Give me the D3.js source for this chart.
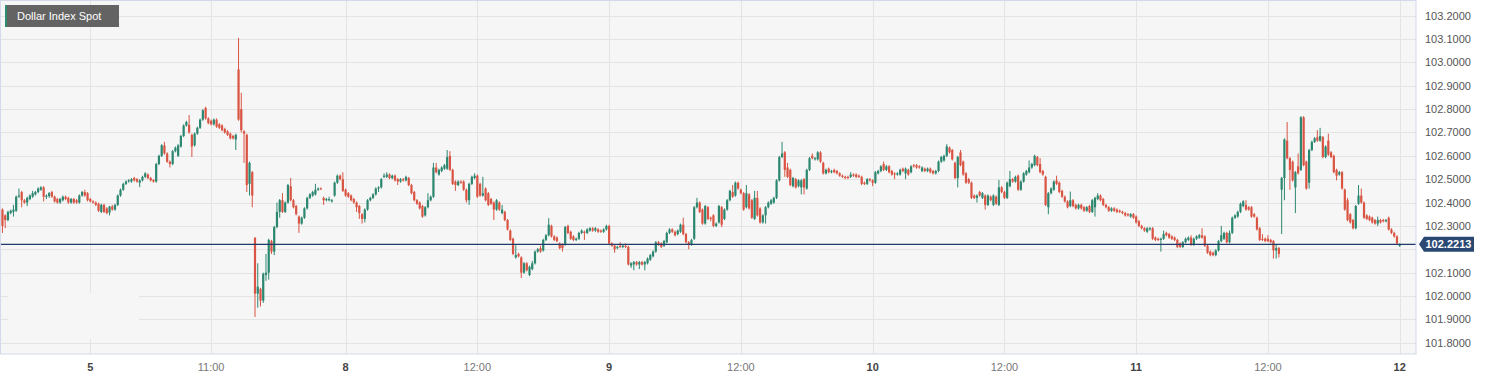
<!DOCTYPE html>
<html>
<head>
<meta charset="utf-8">
<script src="https://cdn.jsdelivr.net/npm/d3@7"></script>
<style>
  body { margin: 0; background: #fff; }
  svg { display: block; font-family: "Liberation Sans", Arial, sans-serif; }
</style>
</head>
<body>
<div id="chart"></div>
<script>
// 15-minute candles, Dollar Index Spot
const open = [
102.37,102.345,102.325,102.355,102.36,102.365,102.425,102.445,102.41,102.40,
102.415,102.425,102.435,102.445,102.455,102.465,102.425,102.428,102.445,102.425,
102.415,102.40,102.41,102.425,102.42,102.40,102.415,102.41,102.40,102.43,
102.445,102.44,102.415,102.405,102.40,102.395,102.36,102.39,102.375,102.357,
102.383,102.37,102.39,102.43,102.455,102.48,102.49,102.49,102.505,102.50,
102.485,102.495,102.51,102.52,102.505,102.497,102.49,102.565,102.60,102.645,
102.61,102.575,102.565,102.62,102.60,102.64,102.685,102.73,102.733,102.69,
102.645,102.695,102.72,102.755,102.805,102.76,102.75,102.735,102.755,102.735,
102.73,102.715,102.705,102.695,102.685,102.67,102.97,102.80,102.705,102.69,
102.48,102.53,102.25,102.01,102.03,101.98,102.09,102.10,102.235,102.19,
102.295,102.36,102.41,102.36,102.40,102.47,102.41,102.385,102.34,102.31,
102.335,102.375,102.42,102.43,102.435,102.455,102.46,102.42,102.41,102.41,
102.405,102.43,102.485,102.515,102.50,102.455,102.44,102.43,102.415,102.40,
102.385,102.35,102.33,102.37,102.41,102.42,102.435,102.46,102.465,102.51,
102.51,102.52,102.505,102.515,102.50,102.49,102.50,102.495,102.505,102.475,
102.445,102.41,102.40,102.385,102.345,102.38,102.41,102.425,102.55,102.52,
102.535,102.545,102.545,102.60,102.54,102.49,102.475,102.49,102.49,102.455,
102.41,102.48,102.505,102.515,102.48,102.43,102.46,102.44,102.415,102.40,
102.37,102.40,102.355,102.36,102.325,102.28,102.245,102.165,102.18,102.165,
102.10,102.14,102.09,102.115,102.14,102.19,102.205,102.195,102.24,102.26,
102.30,102.255,102.25,102.225,102.22,102.22,102.30,102.275,102.255,102.24,
102.245,102.27,102.275,102.27,102.28,102.29,102.28,102.285,102.28,102.275,
102.285,102.30,102.225,102.215,102.205,102.215,102.21,102.215,102.21,102.13,
102.135,102.145,102.135,102.145,102.135,102.14,102.155,102.17,102.19,102.23,
102.225,102.215,102.23,102.27,102.285,102.275,102.265,102.275,102.305,102.265,
102.23,102.22,102.245,102.38,102.40,102.37,102.31,102.38,102.335,102.345,
102.30,102.315,102.38,102.33,102.37,102.41,102.445,102.43,102.485,102.455,
102.44,102.38,102.435,102.41,102.33,102.42,102.375,102.315,102.345,102.38,
102.395,102.40,102.42,102.495,102.595,102.615,102.55,102.54,102.47,102.50,
102.47,102.465,102.50,102.46,102.54,102.60,102.585,102.585,102.615,102.57,
102.525,102.545,102.53,102.54,102.535,102.525,102.515,102.51,102.51,102.51,
102.52,102.52,102.515,102.51,102.485,102.48,102.50,102.495,102.485,102.525,
102.535,102.565,102.54,102.555,102.535,102.525,102.52,102.52,102.545,102.525,
102.54,102.53,102.56,102.56,102.555,102.535,102.545,102.535,102.545,102.535,
102.525,102.535,102.575,102.58,102.60,102.635,102.625,102.57,102.505,102.615,
102.575,102.525,102.50,102.485,102.43,102.42,102.445,102.42,102.43,102.39,
102.425,102.39,102.425,102.39,102.465,102.445,102.42,102.47,102.50,102.49,
102.515,102.455,102.49,102.52,102.53,102.55,102.56,102.595,102.565,102.535,
102.51,102.38,102.44,102.455,102.495,102.485,102.45,102.425,102.405,102.385,
102.41,102.39,102.375,102.39,102.38,102.365,102.385,102.36,102.38,102.415,
102.43,102.415,102.39,102.38,102.365,102.375,102.37,102.365,102.36,102.355,
102.35,102.34,102.35,102.34,102.32,102.30,102.29,102.275,102.285,102.29,
102.25,102.245,102.24,102.245,102.27,102.265,102.255,102.25,102.24,102.225,
102.21,102.23,102.24,102.25,102.22,102.245,102.25,102.26,102.255,102.215,
102.19,102.185,102.175,102.195,102.235,102.245,102.27,102.23,102.27,102.335,
102.34,102.36,102.385,102.39,102.38,102.38,102.35,102.335,102.29,102.245,
102.245,102.245,102.24,102.235,102.195,102.205,102.455,102.505,102.665,102.59,
102.575,102.465,102.555,102.54,102.765,102.575,102.485,102.625,102.66,102.68,
102.665,102.68,102.595,102.665,102.615,102.60,102.54,102.52,102.53,102.455,
102.41,102.35,102.325,102.29,102.395,102.43,102.40,102.345,102.34,102.335,
102.325,102.31,102.325,102.325,102.32,102.335,102.285,102.27,102.255,102.215
];
const high = [
102.375,102.35,102.365,102.37,102.39,102.43,102.46,102.45,102.415,102.425,
102.435,102.45,102.45,102.465,102.47,102.47,102.435,102.445,102.45,102.43,
102.42,102.42,102.43,102.43,102.425,102.42,102.42,102.415,102.435,102.45,
102.455,102.445,102.42,102.41,102.405,102.40,102.395,102.395,102.38,102.385,
102.39,102.395,102.435,102.46,102.485,102.495,102.50,102.505,102.51,102.505,
102.50,102.515,102.53,102.525,102.51,102.50,102.57,102.605,102.65,102.66,
102.615,102.58,102.625,102.64,102.65,102.69,102.735,102.75,102.775,102.695,
102.70,102.725,102.76,102.80,102.81,102.765,102.755,102.76,102.76,102.74,
102.735,102.72,102.71,102.70,102.69,102.695,103.105,102.87,102.71,102.695,
102.575,102.535,102.25,102.14,102.035,102.10,102.18,102.245,102.24,102.30,
102.40,102.415,102.44,102.405,102.48,102.505,102.415,102.39,102.345,102.34,
102.38,102.425,102.44,102.45,102.48,102.465,102.465,102.425,102.42,102.425,
102.415,102.49,102.52,102.52,102.53,102.46,102.445,102.435,102.42,102.405,
102.39,102.355,102.375,102.415,102.425,102.44,102.465,102.47,102.505,102.525,
102.53,102.525,102.52,102.52,102.505,102.505,102.505,102.515,102.51,102.48,
102.45,102.415,102.405,102.39,102.385,102.44,102.43,102.57,102.57,102.545,
102.555,102.565,102.625,102.62,102.545,102.495,102.495,102.495,102.495,102.46,
102.485,102.515,102.525,102.52,102.485,102.51,102.465,102.445,102.42,102.405,
102.415,102.405,102.39,102.365,102.33,102.285,102.25,102.217,102.185,102.17,
102.145,102.145,102.13,102.15,102.195,102.205,102.215,102.245,102.265,102.333,
102.305,102.26,102.255,102.23,102.225,102.30,102.305,102.28,102.26,102.25,
102.275,102.285,102.28,102.29,102.295,102.295,102.295,102.29,102.285,102.29,
102.305,102.305,102.23,102.22,102.215,102.23,102.22,102.225,102.215,102.145,
102.15,102.15,102.15,102.15,102.15,102.165,102.18,102.195,102.235,102.235,
102.23,102.24,102.275,102.29,102.29,102.28,102.285,102.31,102.335,102.27,
102.235,102.245,102.385,102.42,102.405,102.375,102.39,102.385,102.34,102.35,
102.315,102.39,102.385,102.375,102.415,102.455,102.475,102.49,102.49,102.46,
102.445,102.475,102.44,102.415,102.45,102.45,102.38,102.35,102.385,102.405,
102.415,102.425,102.50,102.60,102.66,102.62,102.57,102.545,102.51,102.505,
102.50,102.50,102.505,102.545,102.595,102.61,102.595,102.62,102.62,102.575,
102.545,102.55,102.54,102.545,102.54,102.53,102.52,102.515,102.515,102.53,
102.525,102.525,102.52,102.515,102.49,102.505,102.505,102.50,102.535,102.54,
102.56,102.575,102.56,102.56,102.54,102.53,102.53,102.545,102.55,102.55,
102.545,102.56,102.565,102.565,102.56,102.555,102.55,102.55,102.55,102.54,
102.54,102.58,102.60,102.605,102.65,102.64,102.63,102.575,102.60,102.625,
102.58,102.53,102.505,102.49,102.435,102.435,102.45,102.445,102.435,102.435,
102.43,102.435,102.43,102.497,102.47,102.45,102.49,102.535,102.505,102.515,
102.52,102.495,102.53,102.54,102.58,102.57,102.605,102.60,102.59,102.54,
102.515,102.445,102.465,102.495,102.515,102.49,102.455,102.43,102.41,102.447,
102.415,102.395,102.395,102.395,102.385,102.385,102.39,102.415,102.425,102.44,
102.435,102.42,102.395,102.385,102.38,102.38,102.375,102.37,102.365,102.36,
102.355,102.355,102.355,102.345,102.325,102.305,102.295,102.295,102.295,102.295,
102.255,102.25,102.25,102.28,102.275,102.27,102.26,102.255,102.245,102.23,
102.235,102.25,102.255,102.26,102.25,102.26,102.265,102.29,102.26,102.22,
102.195,102.19,102.20,102.24,102.30,102.275,102.275,102.28,102.34,102.35,
102.365,102.40,102.41,102.41,102.385,102.385,102.355,102.34,102.295,102.265,
102.25,102.26,102.245,102.24,102.22,102.21,102.51,102.675,102.745,102.595,
102.58,102.535,102.61,102.77,102.77,102.58,102.63,102.665,102.68,102.71,
102.72,102.685,102.645,102.695,102.62,102.605,102.545,102.535,102.535,102.46,
102.42,102.355,102.33,102.39,102.475,102.46,102.405,102.35,102.345,102.34,
102.33,102.34,102.33,102.33,102.33,102.34,102.29,102.275,102.26,102.225
];
const low = [
102.27,102.29,102.32,102.35,102.34,102.36,102.42,102.38,102.395,102.385,
102.41,102.42,102.43,102.44,102.45,102.405,102.415,102.42,102.42,102.40,
102.395,102.395,102.405,102.41,102.395,102.395,102.395,102.395,102.395,102.425,
102.425,102.405,102.40,102.395,102.385,102.36,102.355,102.355,102.35,102.345,
102.365,102.365,102.385,102.425,102.45,102.475,102.485,102.485,102.49,102.485,
102.466,102.49,102.505,102.50,102.49,102.485,102.485,102.56,102.595,102.605,
102.57,102.55,102.56,102.615,102.595,102.635,102.68,102.725,102.695,102.595,
102.64,102.69,102.715,102.75,102.755,102.735,102.73,102.73,102.72,102.715,
102.705,102.695,102.685,102.67,102.67,102.625,102.75,102.70,102.57,102.445,
102.43,102.38,101.91,101.95,101.955,101.97,102.065,102.07,102.18,102.175,
102.29,102.335,102.355,102.355,102.395,102.405,102.375,102.345,102.27,102.305,
102.33,102.37,102.415,102.425,102.43,102.45,102.455,102.39,102.405,102.405,
102.40,102.425,102.48,102.495,102.445,102.425,102.42,102.405,102.395,102.36,
102.33,102.31,102.315,102.365,102.405,102.415,102.43,102.445,102.46,102.505,
102.505,102.50,102.50,102.49,102.475,102.485,102.49,102.49,102.47,102.435,
102.405,102.39,102.37,102.335,102.34,102.375,102.405,102.42,102.525,102.515,
102.53,102.54,102.54,102.535,102.475,102.45,102.47,102.48,102.45,102.40,
102.39,102.475,102.50,102.42,102.425,102.425,102.405,102.385,102.39,102.325,
102.365,102.365,102.35,102.32,102.28,102.235,102.175,102.16,102.165,102.077,
102.095,102.105,102.085,102.11,102.135,102.185,102.185,102.19,102.235,102.255,
102.25,102.235,102.23,102.20,102.19,102.215,102.265,102.24,102.235,102.235,
102.24,102.265,102.24,102.265,102.275,102.275,102.275,102.27,102.27,102.27,
102.28,102.22,102.21,102.185,102.20,102.205,102.205,102.205,102.13,102.12,
102.11,102.13,102.115,102.13,102.11,102.135,102.15,102.165,102.185,102.215,
102.205,102.21,102.225,102.265,102.27,102.255,102.26,102.27,102.26,102.225,
102.20,102.215,102.24,102.375,102.355,102.305,102.305,102.325,102.32,102.295,
102.295,102.31,102.295,102.325,102.365,102.405,102.42,102.425,102.455,102.435,
102.365,102.375,102.37,102.33,102.325,102.34,102.31,102.31,102.31,102.375,
102.39,102.395,102.415,102.49,102.59,102.51,102.505,102.47,102.465,102.46,
102.465,102.435,102.435,102.455,102.535,102.585,102.58,102.58,102.57,102.52,
102.52,102.525,102.525,102.525,102.52,102.51,102.505,102.50,102.50,102.505,
102.51,102.505,102.505,102.475,102.475,102.475,102.49,102.47,102.48,102.52,
102.53,102.535,102.535,102.525,102.515,102.50,102.515,102.515,102.53,102.50,
102.515,102.525,102.55,102.545,102.545,102.53,102.53,102.53,102.525,102.52,
102.52,102.53,102.57,102.575,102.595,102.61,102.58,102.50,102.465,102.555,
102.515,102.48,102.48,102.415,102.415,102.40,102.425,102.415,102.37,102.385,
102.405,102.385,102.39,102.385,102.44,102.415,102.415,102.465,102.485,102.485,
102.45,102.45,102.485,102.515,102.525,102.545,102.555,102.555,102.525,102.515,
102.385,102.35,102.435,102.45,102.475,102.44,102.42,102.40,102.375,102.38,
102.38,102.37,102.37,102.37,102.36,102.36,102.355,102.355,102.34,102.41,
102.405,102.385,102.375,102.36,102.36,102.36,102.355,102.355,102.35,102.34,
102.34,102.335,102.33,102.31,102.295,102.285,102.275,102.27,102.28,102.24,
102.235,102.235,102.19,102.24,102.255,102.245,102.24,102.235,102.205,102.205,
102.205,102.225,102.235,102.215,102.215,102.24,102.245,102.245,102.21,102.18,
102.17,102.17,102.17,102.19,102.23,102.24,102.225,102.225,102.265,102.33,
102.335,102.355,102.38,102.365,102.365,102.335,102.335,102.28,102.235,102.235,
102.23,102.23,102.225,102.16,102.16,102.165,102.265,102.41,102.585,102.455,
102.49,102.355,102.52,102.535,102.555,102.455,102.46,102.62,102.655,102.66,
102.66,102.59,102.59,102.60,102.59,102.525,102.495,102.515,102.455,102.365,
102.32,102.31,102.285,102.285,102.39,102.395,102.33,102.325,102.32,102.31,
102.305,102.30,102.31,102.315,102.315,102.28,102.265,102.25,102.22,102.21
];
const close = [
102.30,102.325,102.36,102.365,102.37,102.425,102.43,102.41,102.40,102.42,
102.43,102.44,102.445,102.46,102.465,102.425,102.43,102.44,102.425,102.405,
102.40,102.415,102.425,102.415,102.40,102.415,102.40,102.40,102.43,102.445,
102.43,102.41,102.405,102.40,102.39,102.365,102.39,102.36,102.355,102.383,
102.37,102.39,102.43,102.455,102.48,102.49,102.495,102.50,102.495,102.49,
102.495,102.51,102.525,102.505,102.495,102.49,102.565,102.60,102.645,102.61,
102.575,102.565,102.62,102.635,102.645,102.685,102.73,102.745,102.70,102.64,
102.695,102.72,102.755,102.795,102.76,102.74,102.735,102.755,102.725,102.72,
102.71,102.70,102.69,102.675,102.675,102.69,102.755,102.71,102.695,102.475,
102.57,102.43,102.01,102.04,101.98,102.095,102.10,102.24,102.19,102.295,
102.36,102.41,102.36,102.40,102.475,102.41,102.38,102.35,102.31,102.335,
102.375,102.42,102.435,102.445,102.455,102.46,102.458,102.41,102.415,102.415,
102.41,102.485,102.515,102.50,102.45,102.43,102.425,102.41,102.40,102.38,
102.355,102.33,102.37,102.41,102.42,102.435,102.46,102.465,102.50,102.515,
102.52,102.505,102.515,102.495,102.49,102.50,102.495,102.51,102.475,102.44,
102.41,102.395,102.375,102.34,102.38,102.41,102.425,102.55,102.53,102.54,
102.55,102.56,102.595,102.54,102.48,102.475,102.49,102.485,102.455,102.41,
102.48,102.51,102.515,102.425,102.43,102.44,102.41,102.39,102.395,102.37,
102.41,102.37,102.37,102.325,102.285,102.24,102.18,102.175,102.17,102.10,
102.14,102.11,102.125,102.14,102.19,102.20,102.19,102.24,102.26,102.305,
102.255,102.24,102.235,102.205,102.205,102.295,102.27,102.245,102.24,102.245,
102.27,102.28,102.27,102.285,102.29,102.28,102.29,102.275,102.275,102.285,
102.30,102.225,102.215,102.20,102.21,102.21,102.215,102.21,102.135,102.14,
102.145,102.135,102.145,102.135,102.145,102.16,102.175,102.19,102.23,102.22,
102.21,102.235,102.27,102.285,102.275,102.26,102.28,102.305,102.265,102.23,
102.22,102.24,102.38,102.40,102.36,102.31,102.385,102.33,102.33,102.30,
102.31,102.385,102.305,102.37,102.41,102.45,102.425,102.485,102.46,102.44,
102.37,102.44,102.375,102.335,102.42,102.345,102.315,102.345,102.38,102.40,
102.41,102.42,102.495,102.595,102.61,102.54,102.51,102.475,102.505,102.465,
102.495,102.495,102.465,102.54,102.59,102.59,102.59,102.615,102.575,102.525,
102.54,102.53,102.535,102.53,102.525,102.515,102.51,102.505,102.505,102.52,
102.515,102.51,102.51,102.48,102.48,102.50,102.495,102.485,102.53,102.535,
102.555,102.54,102.555,102.53,102.52,102.52,102.525,102.54,102.535,102.545,
102.52,102.555,102.555,102.55,102.55,102.55,102.535,102.545,102.53,102.525,
102.535,102.575,102.595,102.60,102.64,102.615,102.585,102.505,102.595,102.56,
102.52,102.485,102.485,102.42,102.42,102.43,102.43,102.44,102.39,102.43,
102.41,102.43,102.395,102.465,102.445,102.42,102.485,102.50,102.49,102.51,
102.455,102.49,102.525,102.535,102.55,102.565,102.60,102.56,102.53,102.52,
102.39,102.44,102.46,102.49,102.48,102.445,102.425,102.405,102.38,102.41,
102.385,102.375,102.39,102.375,102.365,102.38,102.36,102.41,102.42,102.43,
102.41,102.39,102.38,102.365,102.375,102.365,102.36,102.36,102.355,102.345,
102.345,102.35,102.335,102.315,102.30,102.29,102.28,102.29,102.29,102.245,
102.24,102.24,102.245,102.265,102.26,102.25,102.245,102.24,102.21,102.21,
102.23,102.245,102.25,102.22,102.245,102.255,102.26,102.25,102.215,102.185,
102.175,102.175,102.195,102.235,102.26,102.27,102.23,102.27,102.335,102.345,
102.36,102.395,102.405,102.37,102.37,102.34,102.34,102.285,102.24,102.24,
102.235,102.235,102.23,102.195,102.205,102.18,102.505,102.67,102.59,102.54,
102.495,102.53,102.525,102.765,102.56,102.46,102.625,102.66,102.675,102.665,
102.685,102.595,102.64,102.605,102.595,102.53,102.515,102.53,102.46,102.37,
102.325,102.315,102.29,102.385,102.43,102.40,102.335,102.33,102.325,102.315,
102.31,102.325,102.315,102.32,102.325,102.285,102.27,102.255,102.225,102.2213
];

const yTickValues = [101.8, 101.9, 102.0, 102.1, 102.2, 102.3, 102.4, 102.5, 102.6, 102.7, 102.8, 102.9, 103.0, 103.1, 103.2];
const xTickIndex = [32, 76, 125, 173, 221, 269, 317, 365, 413, 461, 509];
const xTickLabels = ['5', '11:00', '8', '12:00', '9', '12:00', '10', '12:00', '11', '12:00', '12'];
const lastPrice = 102.2213;
const title = 'Dollar Index Spot';

const width = 1493, height = 380;
const plotW = 1416, plotH = 354;
const bg = '#f6f6f6', gridColor = '#e4e4e4';
const upColor = '#2c8770', downColor = '#d95443';

const n = Math.min(open.length, high.length, low.length, close.length);
const candles = d3.range(n).map(i => ({ i, o: open[i], h: high[i], l: low[i], c: close[i] }));

const x = d3.scaleLinear().domain([0, 509]).range([2.46, 1399.7]);
const y = d3.scaleLinear().domain([101.8, 103.2]).range([342.7, 15.7]);
const yLast = y(lastPrice);

const svg = d3.select('#chart').append('svg')
  .attr('width', width)
  .attr('height', height);

// plot background
svg.append('rect')
  .attr('x', 0).attr('y', 0)
  .attr('width', plotW).attr('height', plotH)
  .attr('fill', bg);

// grid
const grid = svg.append('g').attr('shape-rendering', 'crispEdges');
grid.selectAll('line.h')
  .data(yTickValues)
  .enter().append('line')
  .attr('class', 'h')
  .attr('x1', 0).attr('x2', plotW)
  .attr('y1', d => Math.round(y(d)) + 0.5)
  .attr('y2', d => Math.round(y(d)) + 0.5)
  .attr('stroke', gridColor);
grid.selectAll('line.v')
  .data(xTickIndex)
  .enter().append('line')
  .attr('class', 'v')
  .attr('y1', 0).attr('y2', plotH)
  .attr('x1', d => Math.round(x(d)) + 0.5)
  .attr('x2', d => Math.round(x(d)) + 0.5)
  .attr('stroke', gridColor);

// blank patch over the grid in the lower left
svg.append('rect')
  .attr('x', 8.5).attr('y', 293)
  .attr('width', 130.5).attr('height', 46)
  .attr('fill', bg);

// candles
const bodyW = 2.2;
const g = svg.append('g');
g.selectAll('line.wick')
  .data(candles)
  .enter().append('line')
  .attr('class', 'wick')
  .attr('x1', d => x(d.i)).attr('x2', d => x(d.i))
  .attr('y1', d => y(d.h)).attr('y2', d => y(d.l))
  .attr('stroke', d => d.c >= d.o ? upColor : downColor)
  .attr('stroke-width', 1);
g.selectAll('rect.body')
  .data(candles)
  .enter().append('rect')
  .attr('class', 'body')
  .attr('x', d => x(d.i) - bodyW / 2)
  .attr('width', bodyW)
  .attr('y', d => y(Math.max(d.o, d.c)))
  .attr('height', d => Math.max(1, Math.abs(y(d.o) - y(d.c))))
  .attr('fill', d => d.c >= d.o ? upColor : downColor);

// last price line
svg.append('line')
  .attr('x1', 0).attr('x2', plotW)
  .attr('y1', yLast).attr('y2', yLast)
  .attr('stroke', '#1f3b68')
  .attr('stroke-width', 1.2);

// plot border
svg.append('rect')
  .attr('x', 0.5).attr('y', 0.5)
  .attr('width', plotW - 0.5).attr('height', plotH - 0.5)
  .attr('fill', 'none')
  .attr('stroke', '#d3d9ea');

// y axis labels (the one hidden behind the price tag is left out)
svg.append('g').selectAll('text')
  .data(yTickValues.filter(v => Math.abs(y(v) - yLast) > 12))
  .enter().append('text')
  .attr('x', 1425)
  .attr('y', d => y(d) + 4)
  .attr('font-size', 11)
  .attr('fill', '#555')
  .text(d => d.toFixed(4));

// x axis labels
svg.append('g').selectAll('text')
  .data(xTickIndex)
  .enter().append('text')
  .attr('x', d => x(d))
  .attr('y', 371)
  .attr('text-anchor', 'middle')
  .attr('font-size', 11)
  .attr('font-weight', (d, k) => xTickLabels[k].includes(':') ? 'normal' : 'bold')
  .attr('fill', (d, k) => xTickLabels[k].includes(':') ? '#777' : '#444')
  .text((d, k) => xTickLabels[k]);

// last price tag
svg.append('path')
  .attr('d', `M1419,${yLast} L1424,${yLast - 7.5} L1474,${yLast - 7.5} L1474,${yLast + 7.5} L1424,${yLast + 7.5} Z`)
  .attr('fill', '#2b4873');
svg.append('text')
  .attr('x', 1425.5)
  .attr('y', yLast + 4)
  .attr('font-size', 11)
  .attr('font-weight', 'bold')
  .attr('fill', '#fff')
  .text(lastPrice.toFixed(4));

// title badge
svg.append('rect')
  .attr('x', 5).attr('y', 5)
  .attr('width', 114).attr('height', 22)
  .attr('fill', '#636363');
svg.append('rect')
  .attr('x', 5).attr('y', 5)
  .attr('width', 2).attr('height', 22)
  .attr('fill', '#2e8b6e');
svg.append('text')
  .attr('x', 17).attr('y', 20)
  .attr('font-size', 11)
  .attr('fill', '#fff')
  .text(title);
</script>
</body>
</html>
